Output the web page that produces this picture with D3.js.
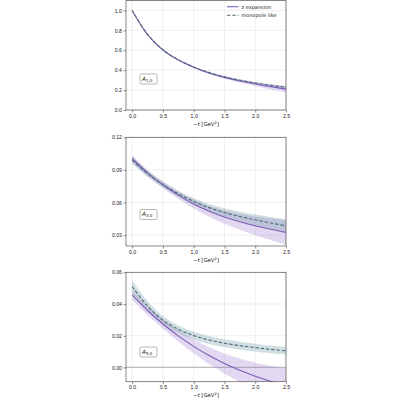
<!DOCTYPE html>
<html>
<head>
<meta charset="utf-8">
<script src="https://cdn.jsdelivr.net/npm/d3@7"></script>
<style>
  body { margin: 0; background: white; }
  svg { font-family: 'DejaVu Sans', sans-serif; }
  .tick text { fill: #222; }
  .grid line { stroke: #e4e4e4; stroke-width: 0.6; }
</style>
</head>
<body>
<div id="chart"></div>
<script>
'use strict';
// Momentum transfer grid (-t in GeV^2)
const tVals = [0, 0.25, 0.5, 0.75, 1.0, 1.25, 1.5, 1.75, 2.0, 2.25, 2.5]
const xTicks = [0, 0.5, 1.0, 1.5, 2.0, 2.5]

// A_{1,0}
const a1zMid = [1.0, 0.758, 0.603, 0.502, 0.430, 0.372, 0.328, 0.292, 0.262, 0.235, 0.210]
const a1zLo = [1.0, 0.754, 0.597, 0.495, 0.422, 0.362, 0.315, 0.276, 0.242, 0.209, 0.178]
const a1zHi = [1.0, 0.762, 0.609, 0.509, 0.438, 0.382, 0.341, 0.308, 0.282, 0.261, 0.242]
const a1mMid = [1.0, 0.760, 0.605, 0.505, 0.432, 0.376, 0.333, 0.299, 0.271, 0.248, 0.228]
const a1mLo = [1.0, 0.757, 0.601, 0.500, 0.427, 0.370, 0.327, 0.292, 0.264, 0.240, 0.220]
const a1mHi = [1.0, 0.763, 0.609, 0.510, 0.437, 0.382, 0.339, 0.306, 0.278, 0.256, 0.236]
const a1Ticks = [0, 0.2, 0.4, 0.6, 0.8, 1.0]

// A_{3,0}
const a3zMid = [0.1005, 0.0872, 0.0763, 0.0668, 0.0586, 0.0520, 0.0467, 0.0423, 0.0386, 0.0354, 0.0325]
const a3zLo = [0.0970, 0.0842, 0.0733, 0.0635, 0.0545, 0.0470, 0.0405, 0.0350, 0.0300, 0.0255, 0.0212]
const a3zHi = [0.1040, 0.0902, 0.0793, 0.0701, 0.0627, 0.0570, 0.0529, 0.0496, 0.0472, 0.0453, 0.0438]
const a3mMid = [0.0990, 0.0865, 0.0765, 0.0681, 0.0610, 0.0553, 0.0508, 0.0472, 0.0441, 0.0412, 0.0386]
const a3mLo = [0.0960, 0.0837, 0.0738, 0.0653, 0.0580, 0.0519, 0.0469, 0.0428, 0.0392, 0.0358, 0.0326]
const a3mHi = [0.1020, 0.0893, 0.0792, 0.0709, 0.0640, 0.0587, 0.0547, 0.0516, 0.0490, 0.0466, 0.0446]
const a3Ticks = [0.03, 0.06, 0.09, 0.12]

// A_{5,0}
const a5zMid = [0.0457, 0.0359, 0.0274, 0.0199, 0.0133, 0.0075, 0.0025, -0.0018, -0.0055, -0.0087, -0.0115]
const a5zLo = [0.0427, 0.0331, 0.0244, 0.0164, 0.0090, 0.0022, -0.0038, -0.0092, -0.0140, -0.0182, -0.0220]
const a5zHi = [0.0487, 0.0387, 0.0304, 0.0234, 0.0176, 0.0128, 0.0088, 0.0056, 0.0030, 0.0010, -0.0008]
const a5mMid = [0.0509, 0.0388, 0.0298, 0.0241, 0.0201, 0.0173, 0.0153, 0.0137, 0.0125, 0.0114, 0.0105]
const a5mLo = [0.0469, 0.0357, 0.0272, 0.0217, 0.0176, 0.0148, 0.0128, 0.0112, 0.0100, 0.0089, 0.0080]
const a5mHi = [0.0549, 0.0419, 0.0324, 0.0265, 0.0226, 0.0198, 0.0178, 0.0162, 0.0150, 0.0139, 0.0130]
const a5Ticks = [0.0, 0.02, 0.04, 0.06]

const legendLabels = ['z expansion', 'monopole like']

const zColor = '#7b5cb8'
const zBand = 'rgba(150, 115, 205, 0.28)'
const mColor = '#4d6b78'
const mBand = 'rgba(95, 140, 150, 0.28)'

const left = 126, right = 286
const x = d3.scaleLinear().domain([-0.1, 2.5]).range([left, right])

const svg = d3.select('#chart').append('svg')
  .attr('width', 400)
  .attr('height', 400)

const panels = [
  { top: 0.5, bottom: 110, domain: [0, 1.1], ticks: a1Ticks, fmt: '.1f', sub: '1,0',
    zMid: a1zMid, zLo: a1zLo, zHi: a1zHi, mMid: a1mMid, mLo: a1mLo, mHi: a1mHi, labelY: 79, legend: true },
  { top: 137.3, bottom: 246, domain: [0.02, 0.12], ticks: a3Ticks, fmt: '.2f', sub: '3,0',
    zMid: a3zMid, zLo: a3zLo, zHi: a3zHi, mMid: a3mMid, mLo: a3mLo, mHi: a3mHi, labelY: 214.5 },
  { top: 272.3, bottom: 381.7, domain: [-0.009, 0.06], ticks: a5Ticks, fmt: '.2f', sub: '5,0',
    zMid: a5zMid, zLo: a5zLo, zHi: a5zHi, mMid: a5mMid, mLo: a5mLo, mHi: a5mHi, labelY: 352, zeroLine: true }
]

panels.forEach((p, i) => {
  const y = d3.scaleLinear().domain(p.domain).range([p.bottom, p.top])
  const g = svg.append('g')

  g.append('clipPath').attr('id', `clip${i}`)
    .append('rect')
    .attr('x', left).attr('y', p.top)
    .attr('width', right - left).attr('height', p.bottom - p.top)

  // grid lines
  g.append('g').attr('class', 'grid')
    .selectAll('line.v').data(xTicks).join('line')
    .attr('x1', d => x(d)).attr('x2', d => x(d))
    .attr('y1', p.top).attr('y2', p.bottom)
  g.append('g').attr('class', 'grid')
    .selectAll('line.h').data(p.ticks).join('line')
    .attr('x1', left).attr('x2', right)
    .attr('y1', d => y(d)).attr('y2', d => y(d))

  const plot = g.append('g').attr('clip-path', `url(#clip${i})`)

  if (p.zeroLine) {
    plot.append('line')
      .attr('x1', left).attr('x2', right)
      .attr('y1', y(0)).attr('y2', y(0))
      .attr('stroke', '#bdbdbd')
      .attr('stroke-width', 1.2)
  }

  const curve = d3.curveCatmullRom.alpha(0.5)
  const area = (lo, hi) => d3.area()
    .x((d, k) => x(tVals[k]))
    .y0((d, k) => y(lo[k]))
    .y1((d, k) => y(hi[k]))
    .curve(curve)(tVals)
  const line = vals => d3.line()
    .x((d, k) => x(tVals[k]))
    .y((d, k) => y(vals[k]))
    .curve(curve)(tVals)

  plot.append('path').attr('d', area(p.zLo, p.zHi)).attr('fill', zBand)
  plot.append('path').attr('d', area(p.mLo, p.mHi)).attr('fill', mBand)
  plot.append('path').attr('d', line(p.zMid))
    .attr('fill', 'none').attr('stroke', zColor).attr('stroke-width', 1.1)
  plot.append('path').attr('d', line(p.mMid))
    .attr('fill', 'none').attr('stroke', mColor).attr('stroke-width', 1.1)
    .attr('stroke-dasharray', '3.5,1.8')

  // axes
  const xAxis = g.append('g')
    .attr('transform', `translate(0,${p.bottom})`)
    .call(d3.axisBottom(x).tickValues(xTicks).tickFormat(d3.format('.1f')).tickSize(2.5).tickPadding(1.5))
  const yAxis = g.append('g')
    .attr('transform', `translate(${left},0)`)
    .call(d3.axisLeft(y).tickValues(p.ticks).tickFormat(d3.format(p.fmt)).tickSize(2.5).tickPadding(1.5))
  ;[xAxis, yAxis].forEach(a => {
    a.selectAll('text').style('font-size', '5.2px')
    a.selectAll('line').attr('stroke', '#444').attr('stroke-width', 0.6)
    a.select('.domain').remove()
  })

  // frame
  g.append('rect')
    .attr('x', left).attr('y', p.top)
    .attr('width', right - left).attr('height', p.bottom - p.top)
    .attr('fill', 'none').attr('stroke', '#555').attr('stroke-width', 0.7)

  // x label
  const xl = g.append('text')
    .attr('x', (left + right) / 2)
    .attr('y', p.bottom + 15.5)
    .attr('text-anchor', 'middle')
    .style('font-size', '5.4px')
    .attr('fill', '#222')
  xl.append('tspan').text('\u2212')
  xl.append('tspan').style('font-style', 'italic').text('t')
  xl.append('tspan').text(' [GeV')
  xl.append('tspan').attr('dy', -2).style('font-size', '3.8px').text('2')
  xl.append('tspan').attr('dy', 2).text(']')

  // panel label box
  g.append('rect')
    .attr('x', 140).attr('y', p.labelY - 5)
    .attr('width', 17).attr('height', 10)
    .attr('rx', 1.5)
    .attr('fill', 'white').attr('stroke', '#888').attr('stroke-width', 0.6)
  const lab = g.append('text')
    .attr('x', 142).attr('y', p.labelY + 1.5)
    .style('font-size', '5.8px')
    .attr('fill', '#222')
  lab.append('tspan').style('font-style', 'italic').text('A')
  lab.append('tspan').attr('dy', 1.2).style('font-size', '4px').text(p.sub)

  if (p.legend) {
    const lg = g.append('g')
    legendLabels.forEach((name, k) => {
      const ly = 6.7 + k * 8.6
      lg.append('line')
        .attr('x1', 227).attr('x2', 238.5)
        .attr('y1', ly).attr('y2', ly)
        .attr('stroke', k === 0 ? zColor : mColor)
        .attr('stroke-width', 1.1)
        .attr('stroke-dasharray', k === 0 ? null : '3.5,1.8')
      lg.append('text')
        .attr('x', 241.5).attr('y', ly + 1.8)
        .style('font-size', '5px')
        .attr('fill', '#222')
        .text(name)
    })
  }
})
</script>
</body>
</html>
